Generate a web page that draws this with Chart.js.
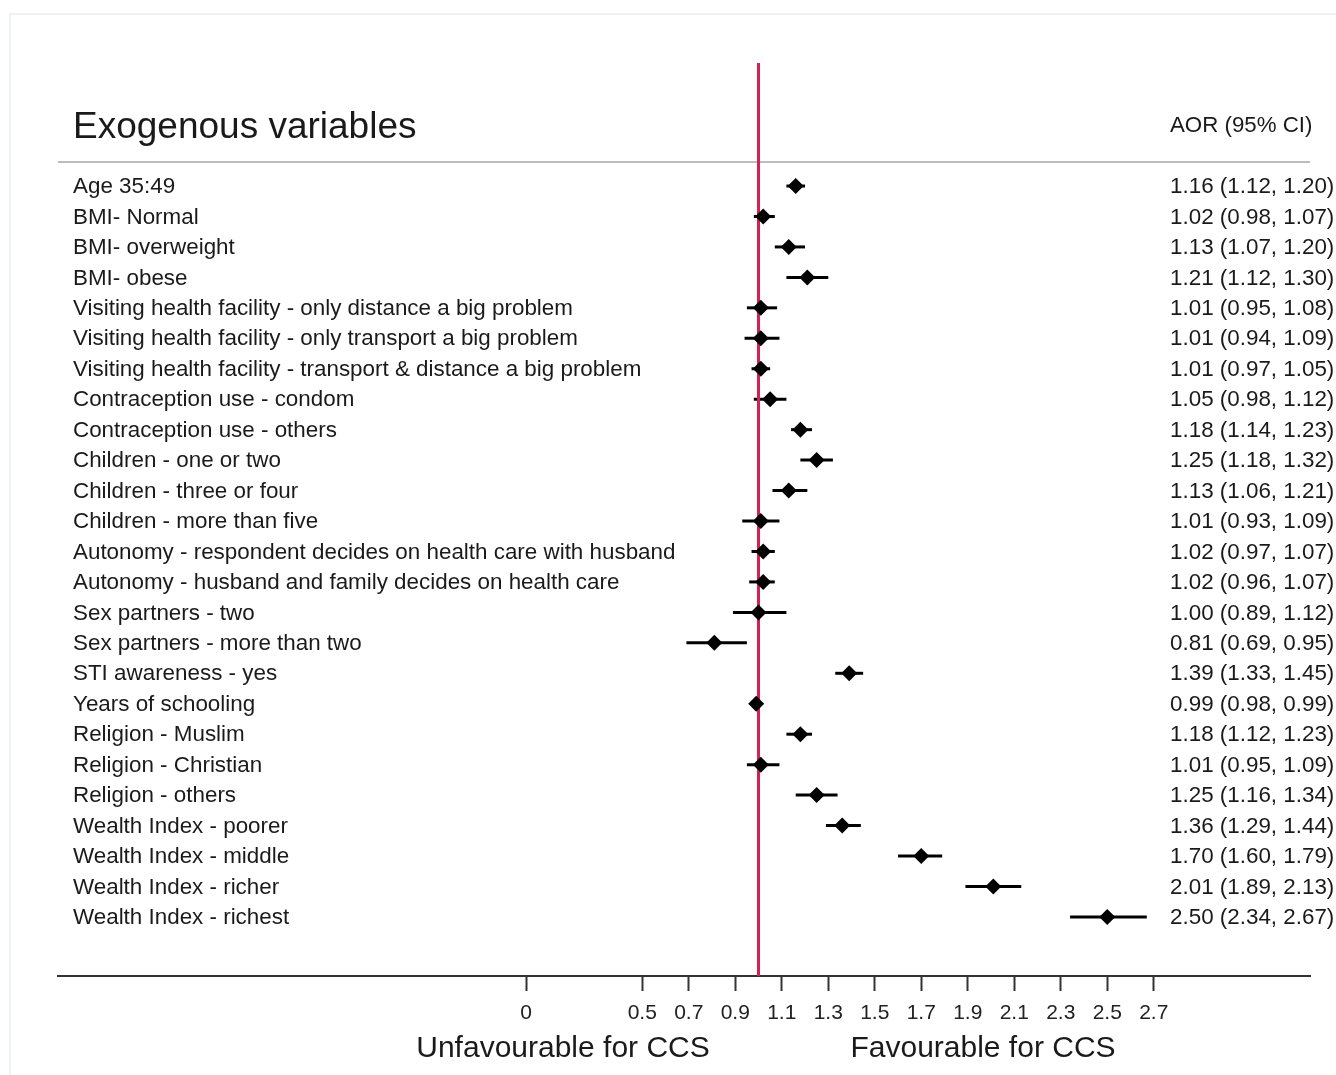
<!DOCTYPE html>
<html>
<head>
<meta charset="utf-8">
<script src="https://cdn.jsdelivr.net/npm/chart.js@4/dist/chart.umd.min.js"></script>
<style>
  html, body { margin: 0; padding: 0; background: #ffffff; }
  #wrap { width: 1336px; height: 1075px; position: relative; }
</style>
</head>
<body>
<div id="wrap"><canvas id="c" width="1336" height="1075"></canvas></div>
<script>
// ---- data ----
const variableLabels = [
  "Age 35:49",
  "BMI- Normal",
  "BMI- overweight",
  "BMI- obese",
  "Visiting health facility - only distance a big problem",
  "Visiting health facility - only transport a big problem",
  "Visiting health facility - transport & distance a big problem",
  "Contraception use - condom",
  "Contraception use - others",
  "Children - one or two",
  "Children - three or four",
  "Children - more than five",
  "Autonomy - respondent decides on health care with husband",
  "Autonomy - husband and family decides on health care",
  "Sex partners - two",
  "Sex partners - more than two",
  "STI awareness - yes",
  "Years of schooling",
  "Religion - Muslim",
  "Religion - Christian",
  "Religion - others",
  "Wealth Index - poorer",
  "Wealth Index - middle",
  "Wealth Index - richer",
  "Wealth Index - richest"
];
const aorValues = [1.16, 1.02, 1.13, 1.21, 1.01, 1.01, 1.01, 1.05, 1.18, 1.25, 1.13, 1.01, 1.02, 1.02, 1.00, 0.81, 1.39, 0.99, 1.18, 1.01, 1.25, 1.36, 1.70, 2.01, 2.50];
const lowerCI   = [1.12, 0.98, 1.07, 1.12, 0.95, 0.94, 0.97, 0.98, 1.14, 1.18, 1.06, 0.93, 0.97, 0.96, 0.89, 0.69, 1.33, 0.98, 1.12, 0.95, 1.16, 1.29, 1.60, 1.89, 2.34];
const upperCI   = [1.20, 1.07, 1.20, 1.30, 1.08, 1.09, 1.05, 1.12, 1.23, 1.32, 1.21, 1.09, 1.07, 1.07, 1.12, 0.95, 1.45, 0.99, 1.23, 1.09, 1.34, 1.44, 1.79, 2.13, 2.67];
const tickValues = [0, 0.5, 0.7, 0.9, 1.1, 1.3, 1.5, 1.7, 1.9, 2.1, 2.3, 2.5, 2.7];
const nullLine = 1;
const titleText = "Exogenous variables";
const statHeader = "AOR (95% CI)";
const leftAxisTitle = "Unfavourable for CCS";
const rightAxisTitle = "Favourable for CCS";

// ---- scale extents ----
const X_MIN = -2.013, X_MAX = 3.372;
const Y_MIN = -4.04, Y_MAX = 25.94;
const HEADER_ROW = -2, HEADER_RULE = -0.79;

const FONT = '"Liberation Sans", Arial, Helvetica, sans-serif';
const TEXT = '#1a1a1a';

const datasets = [];
// header rule
datasets.push({
  type: 'line', data: [{x: X_MIN, y: HEADER_RULE}, {x: X_MAX, y: HEADER_RULE}],
  borderColor: '#bdbdbd', borderWidth: 2, pointRadius: 0, order: 5
});
// confidence intervals
variableLabels.forEach((_, i) => {
  datasets.push({
    type: 'line', data: [{x: lowerCI[i], y: i}, {x: upperCI[i], y: i}],
    borderColor: '#000', borderWidth: 3, pointRadius: 0, order: 3
  });
});
// null reference line
datasets.push({
  type: 'line', data: [{x: nullLine, y: Y_MIN}, {x: nullLine, y: Y_MAX}],
  borderColor: '#d4214f', borderWidth: 3, pointRadius: 0, order: 2
});
// point estimates
datasets.push({
  type: 'scatter', data: aorValues.map((v, i) => ({x: v, y: i})),
  pointStyle: 'rectRot', pointRadius: 8, backgroundColor: '#000', borderColor: '#000',
  borderWidth: 0, order: 1
});

const textPlugin = {
  id: 'forestText',
  beforeDraw(chart) {
    const ctx = chart.ctx;
    ctx.save();
    ctx.fillStyle = '#fff';
    ctx.fillRect(0, 0, chart.width, chart.height);
    ctx.strokeStyle = '#edf2f2';
    ctx.lineWidth = 2;
    ctx.beginPath();
    ctx.moveTo(10, chart.height);
    ctx.lineTo(10, 14);
    ctx.lineTo(chart.width, 14);
    ctx.stroke();
    ctx.restore();
  },
  afterDraw(chart) {
    const ctx = chart.ctx;
    const ys = chart.scales.y;
    const area = chart.chartArea;
    const labelX = area.left + 15;
    const statX = 1170;
    ctx.save();
    ctx.fillStyle = TEXT;
    ctx.textBaseline = 'middle';
    ctx.textAlign = 'left';
    // header
    ctx.font = '37px ' + FONT;
    ctx.fillText(titleText, labelX, ys.getPixelForValue(HEADER_ROW) + 3);
    ctx.font = '22.3px ' + FONT;
    ctx.fillText(statHeader, statX, ys.getPixelForValue(HEADER_ROW) + 1);
    // rows
    ctx.font = '22.4px ' + FONT;
    variableLabels.forEach((lab, i) => {
      const y = ys.getPixelForValue(i) + 1;
      ctx.fillText(lab, labelX, y);
      const s = aorValues[i].toFixed(2) + ' (' + lowerCI[i].toFixed(2) + ', ' + upperCI[i].toFixed(2) + ')';
      ctx.fillText(s, statX, y);
    });
    // bottom titles
    ctx.font = '30px ' + FONT;
    ctx.textAlign = 'center';
    ctx.fillText(leftAxisTitle, 563, 1049);
    ctx.fillText(rightAxisTitle, 983, 1049);
    ctx.restore();
  }
};

new Chart(document.getElementById('c'), {
  data: { datasets },
  options: {
    responsive: false,
    animation: false,
    events: [],
    layout: { padding: { left: 58, right: 26, top: 63, bottom: 0 } },
    plugins: { legend: { display: false }, tooltip: { enabled: false } },
    scales: {
      x: {
        type: 'linear', min: X_MIN, max: X_MAX,
        afterBuildTicks(scale) { scale.ticks = tickValues.map(v => ({value: v})); },
        afterFit(scale) { scale.height = 99; },
        ticks: {
          autoSkip: false, maxRotation: 0, padding: 10, color: '#222',
          font: { family: FONT, size: 21 },
          callback: v => String(v)
        },
        grid: { display: true, drawOnChartArea: false, drawTicks: true, tickLength: 15, tickWidth: 2, tickColor: '#333' },
        border: { display: true, color: '#333', width: 2 }
      },
      y: {
        type: 'linear', display: false, reverse: true, min: Y_MIN, max: Y_MAX
      }
    }
  },
  plugins: [textPlugin]
});
</script>
</body>
</html>
